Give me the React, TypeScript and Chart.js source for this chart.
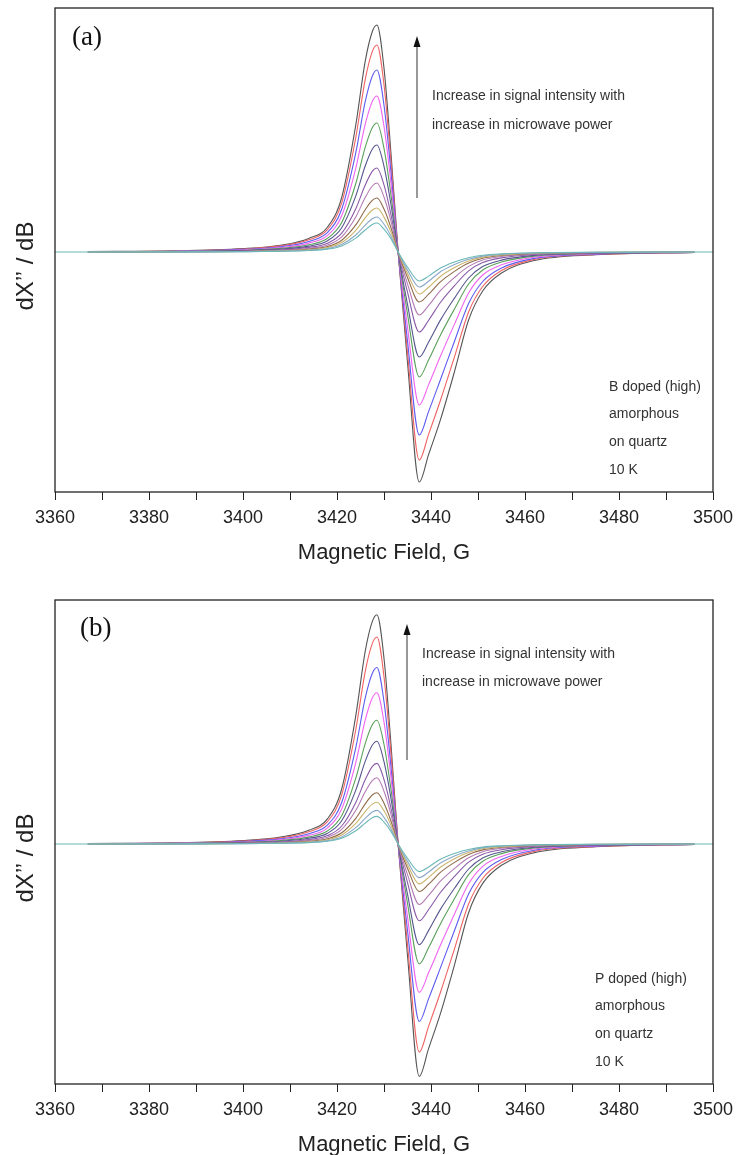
import React, { useEffect, useRef } from 'react';
import { Chart, registerables } from 'chart.js';

Chart.register(...registerables);

// ---------- data ----------
// magnetic field sample positions (G)
const FIELD_G = [3367, 3385, 3400, 3408, 3414, 3418, 3421, 3424, 3426, 3427.5, 3428.5, 3430, 3431.5, 3433, 3435, 3437.5, 3439.5, 3442, 3445, 3448, 3451, 3455, 3462, 3475, 3496];
// the lowest-power trace spans the full window
const FIELD_G_FULL = [3360, 3367, 3385, 3400, 3408, 3414, 3418, 3421, 3424, 3426, 3427.5, 3428.5, 3430, 3431.5, 3433, 3435, 3437.5, 3439.5, 3442, 3445, 3448, 3451, 3455, 3462, 3475, 3496, 3500];

const X_MIN = 3360;
const X_MAX = 3500;
const X_STEP = 10;
const X_LABEL_STEP = 20;

// Panel (a): B doped, traces from highest to lowest microwave power
const A_TRACE_01 = [0.05, 0.11, 0.34, 0.68, 1.36, 2.5, 5.45, 12.71, 19.07, 22.02, 22.7, 18.39, 9.76, 0, -11.04, -23.0, -20.24, -16.79, -11.96, -6.8, -3.9, -2.1, -0.85, -0.28, -0.05];
const A_TRACE_02 = [0.04, 0.1, 0.3, 0.61, 1.22, 2.26, 4.91, 11.45, 17.24, 20.04, 20.7, 16.73, 8.94, 0, -10.07, -20.8, -18.21, -14.85, -10.48, -6.0, -3.45, -1.85, -0.74, -0.25, -0.04];
const A_TRACE_03 = [0.03, 0.08, 0.26, 0.53, 1.06, 1.97, 4.28, 9.94, 15.03, 17.58, 18.2, 14.67, 7.9, 0, -8.91, -18.3, -15.94, -12.77, -8.92, -5.15, -2.95, -1.6, -0.64, -0.22, -0.04];
const A_TRACE_04 = [0.02, 0.07, 0.21, 0.44, 0.89, 1.67, 3.62, 8.39, 12.76, 15.05, 15.6, 12.56, 6.79, 0, -7.51, -15.3, -13.26, -10.43, -7.21, -4.1, -2.3, -1.28, -0.52, -0.17, -0.02];
const A_TRACE_05 = [0.02, 0.06, 0.17, 0.36, 0.72, 1.37, 2.95, 6.85, 10.46, 12.42, 12.9, 10.36, 5.64, 0, -6.18, -12.5, -10.78, -8.32, -5.69, -3.2, -1.8, -1.0, -0.41, -0.14, -0.01];
const A_TRACE_06 = [0.01, 0.04, 0.14, 0.29, 0.59, 1.13, 2.42, 5.61, 8.6, 10.28, 10.7, 8.57, 4.7, 0, -5.23, -10.5, -9.0, -6.81, -4.61, -2.6, -1.46, -0.81, -0.34, -0.12, -0.01];
const A_TRACE_07 = [0.01, 0.03, 0.1, 0.22, 0.46, 0.88, 1.88, 4.33, 6.69, 8.06, 8.4, 6.71, 3.7, 0, -4.02, -8.0, -6.82, -5.05, -3.37, -1.89, -1.06, -0.59, -0.25, -0.09, -0.01];
const A_TRACE_08 = [0, 0.03, 0.08, 0.18, 0.37, 0.71, 1.52, 3.51, 5.44, 6.6, 6.9, 5.5, 3.06, 0, -3.19, -6.3, -5.34, -3.87, -2.55, -1.44, -0.8, -0.45, -0.2, -0.07, 0];
const A_TRACE_09 = [0, 0.02, 0.06, 0.14, 0.28, 0.55, 1.18, 2.71, 4.22, 5.16, 5.4, 4.29, 2.4, 0, -2.55, -5.0, -4.22, -2.99, -1.94, -1.11, -0.62, -0.35, -0.15, -0.05, 0];
const A_TRACE_10 = [0, 0.01, 0.05, 0.11, 0.23, 0.45, 0.95, 2.17, 3.41, 4.2, 4.4, 3.49, 1.96, 0, -2.15, -4.2, -3.52, -2.45, -1.56, -0.9, -0.51, -0.29, -0.12, -0.04, 0];
const A_TRACE_11 = [0, 0.01, 0.04, 0.09, 0.18, 0.35, 0.74, 1.7, 2.68, 3.33, 3.5, 2.77, 1.57, 0, -1.81, -3.5, -2.92, -1.98, -1.25, -0.73, -0.41, -0.23, -0.1, -0.04, 0];
const A_TRACE_12 = [0, 0, 0.01, 0.03, 0.07, 0.15, 0.29, 0.61, 1.39, 2.2, 2.76, 2.9, 2.29, 1.31, 0, -1.51, -2.9, -2.41, -1.6, -0.99, -0.58, -0.33, -0.19, -0.08, -0.03, 0, 0];

// Panel (b): P doped
const B_TRACE_01 = [0.05, 0.11, 0.34, 0.69, 1.37, 2.53, 5.5, 12.84, 19.26, 22.24, 22.93, 18.57, 9.86, 0, -11.15, -23.23, -20.44, -16.96, -12.08, -6.87, -3.94, -2.12, -0.86, -0.28, -0.05];
const B_TRACE_02 = [0.04, 0.1, 0.3, 0.61, 1.22, 2.26, 4.91, 11.45, 17.24, 20.04, 20.7, 16.73, 8.94, 0, -10.07, -20.8, -18.21, -14.85, -10.48, -6.0, -3.45, -1.85, -0.74, -0.25, -0.04];
const B_TRACE_03 = [0.03, 0.08, 0.25, 0.51, 1.03, 1.91, 4.15, 9.64, 14.58, 17.05, 17.65, 14.23, 7.66, 0, -8.64, -17.75, -15.46, -12.39, -8.65, -5.0, -2.86, -1.55, -0.62, -0.21, -0.04];
const B_TRACE_04 = [0.02, 0.07, 0.2, 0.43, 0.86, 1.62, 3.51, 8.14, 12.38, 14.6, 15.13, 12.18, 6.59, 0, -7.28, -14.84, -12.86, -10.12, -6.99, -3.98, -2.23, -1.24, -0.5, -0.16, -0.02];
const B_TRACE_05 = [0.02, 0.06, 0.16, 0.35, 0.69, 1.32, 2.83, 6.58, 10.04, 11.92, 12.38, 9.95, 5.41, 0, -5.93, -12.0, -10.35, -7.99, -5.46, -3.07, -1.73, -0.96, -0.39, -0.13, -0.01];
const B_TRACE_06 = [0.01, 0.04, 0.13, 0.28, 0.57, 1.08, 2.32, 5.39, 8.26, 9.87, 10.27, 8.23, 4.51, 0, -5.02, -10.08, -8.64, -6.54, -4.43, -2.5, -1.4, -0.78, -0.33, -0.12, -0.01];
const B_TRACE_07 = [0.01, 0.03, 0.1, 0.21, 0.44, 0.84, 1.8, 4.16, 6.42, 7.74, 8.06, 6.44, 3.55, 0, -3.86, -7.68, -6.55, -4.85, -3.24, -1.81, -1.02, -0.57, -0.24, -0.09, -0.01];
const B_TRACE_08 = [0, 0.03, 0.08, 0.17, 0.36, 0.68, 1.46, 3.37, 5.22, 6.34, 6.62, 5.28, 2.94, 0, -3.06, -6.05, -5.13, -3.72, -2.45, -1.38, -0.77, -0.43, -0.19, -0.07, 0];
const B_TRACE_09 = [0, 0.02, 0.06, 0.13, 0.27, 0.52, 1.12, 2.57, 4.01, 4.9, 5.13, 4.08, 2.28, 0, -2.42, -4.75, -4.01, -2.84, -1.84, -1.05, -0.59, -0.33, -0.14, -0.05, 0];
const B_TRACE_10 = [0, 0.01, 0.05, 0.1, 0.22, 0.43, 0.9, 2.06, 3.24, 3.99, 4.18, 3.32, 1.86, 0, -2.04, -3.99, -3.34, -2.33, -1.48, -0.86, -0.48, -0.28, -0.11, -0.04, 0];
const B_TRACE_11 = [0, 0.01, 0.04, 0.09, 0.17, 0.34, 0.71, 1.63, 2.57, 3.2, 3.36, 2.66, 1.51, 0, -1.74, -3.36, -2.8, -1.9, -1.2, -0.7, -0.39, -0.22, -0.1, -0.04, 0];
const B_TRACE_12 = [0, 0, 0.01, 0.03, 0.07, 0.14, 0.28, 0.58, 1.32, 2.09, 2.62, 2.76, 2.18, 1.24, 0, -1.43, -2.76, -2.29, -1.52, -0.94, -0.55, -0.31, -0.18, -0.08, -0.03, 0, 0];

const A_TRACES = [A_TRACE_01, A_TRACE_02, A_TRACE_03, A_TRACE_04, A_TRACE_05, A_TRACE_06, A_TRACE_07, A_TRACE_08, A_TRACE_09, A_TRACE_10, A_TRACE_11, A_TRACE_12];
const B_TRACES = [B_TRACE_01, B_TRACE_02, B_TRACE_03, B_TRACE_04, B_TRACE_05, B_TRACE_06, B_TRACE_07, B_TRACE_08, B_TRACE_09, B_TRACE_10, B_TRACE_11, B_TRACE_12];

const TRACE_COLORS = ['#555555', '#f06262', '#5c5cf0', '#f064f0', '#5aa05a', '#56568f', '#8a5aa8', '#b47cb4', '#8f6a4a', '#cbb56c', '#8aa8c8', '#6cb8b8'];

const Y_MIN = -24.0;
const Y_MAX = 24.4;

const SANS = '"Liberation Sans", Arial, sans-serif';
const SERIF = '"Liberation Serif", "Times New Roman", serif';

type PanelCfg = {
  label: string;
  labelX: number; labelY: number;
  arrowX: number; arrowTop: number; arrowBottom: number;
  noteX: number; noteY: number[];
  notes: string[];
  sampleX: number; sampleY: number[];
  sample: string[];
  yTitleY: number;
};

const NOTE_TEXT = ['Increase in signal intensity with', 'increase in microwave power'];

const PANEL_A: PanelCfg = {
  label: '(a)', labelX: 72, labelY: 38,
  arrowX: 417, arrowTop: 36, arrowBottom: 198,
  noteX: 432, noteY: [96, 125], notes: NOTE_TEXT,
  sampleX: 609, sampleY: [387, 414, 442, 470],
  sample: ['B doped (high)', 'amorphous', 'on quartz', '10 K'],
  yTitleY: 266,
};

const PANEL_B: PanelCfg = {
  label: '(b)', labelX: 80, labelY: 37,
  arrowX: 407, arrowTop: 32, arrowBottom: 168,
  noteX: 422, noteY: [62, 90], notes: NOTE_TEXT,
  sampleX: 595, sampleY: [387, 414, 442, 470],
  sample: ['P doped (high)', 'amorphous', 'on quartz', '10 K'],
  yTitleY: 266,
};

function buildDatasets(traces: number[][]) {
  return traces.map((vals, i) => {
    const xs = vals.length === FIELD_G_FULL.length ? FIELD_G_FULL : FIELD_G;
    return {
      label: 'P' + (i + 1),
      data: vals.map((v, k) => ({ x: xs[k], y: v })),
      borderColor: TRACE_COLORS[i],
      backgroundColor: TRACE_COLORS[i],
      borderWidth: 1.1,
      pointRadius: 0,
      fill: false,
      cubicInterpolationMode: 'monotone' as const,
      order: traces.length - i,
    };
  });
}

function makeDecor(cfg: PanelCfg) {
  return {
    id: 'decor',
    afterDraw(chart: any) {
      const { ctx, chartArea } = chart;
      const { left, right, top, bottom } = chartArea;
      ctx.save();
      // frame
      ctx.strokeStyle = '#222';
      ctx.lineWidth = 1.3;
      ctx.strokeRect(left, top, right - left, bottom - top);
      // panel label
      ctx.fillStyle = '#111';
      ctx.font = `27px ${SERIF}`;
      ctx.textBaseline = 'middle';
      ctx.textAlign = 'left';
      ctx.fillText(cfg.label, cfg.labelX, cfg.labelY);
      // arrow
      ctx.strokeStyle = '#444';
      ctx.lineWidth = 1.1;
      ctx.beginPath();
      ctx.moveTo(cfg.arrowX, cfg.arrowBottom);
      ctx.lineTo(cfg.arrowX, cfg.arrowTop + 8);
      ctx.stroke();
      ctx.fillStyle = '#111';
      ctx.beginPath();
      ctx.moveTo(cfg.arrowX, cfg.arrowTop);
      ctx.lineTo(cfg.arrowX - 3.5, cfg.arrowTop + 11);
      ctx.lineTo(cfg.arrowX + 3.5, cfg.arrowTop + 11);
      ctx.closePath();
      ctx.fill();
      // notes
      ctx.fillStyle = '#333';
      ctx.font = `14px ${SANS}`;
      cfg.notes.forEach((t, i) => ctx.fillText(t, cfg.noteX, cfg.noteY[i]));
      cfg.sample.forEach((t, i) => ctx.fillText(t, cfg.sampleX, cfg.sampleY[i]));
      // y title
      ctx.save();
      ctx.translate(26, cfg.yTitleY);
      ctx.rotate(-Math.PI / 2);
      ctx.textAlign = 'center';
      ctx.font = `24px ${SANS}`;
      ctx.fillStyle = '#222';
      ctx.fillText('dX\u2019\u2019 / dB', 0, 0);
      ctx.restore();
      ctx.restore();
    },
  };
}

function Panel({ traces, cfg, top }: { traces: number[][]; cfg: PanelCfg; top: number }) {
  const ref = useRef<HTMLCanvasElement | null>(null);
  useEffect(() => {
    if (!ref.current) return;
    const chart = new Chart(ref.current, {
      type: 'line',
      data: { datasets: buildDatasets(traces) as any },
      options: {
        animation: false,
        responsive: false,
        devicePixelRatio: 1,
        layout: { padding: { left: 55, right: 23, top: 8, bottom: 0 } },
        plugins: { legend: { display: false }, tooltip: { enabled: false } },
        scales: {
          x: {
            type: 'linear',
            min: X_MIN,
            max: X_MAX,
            ticks: {
              stepSize: X_STEP,
              autoSkip: false,
              maxRotation: 0,
              padding: 7,
              color: '#222',
              font: { family: SANS, size: 18 },
              callback: (v: any) => (Number(v) % X_LABEL_STEP === 0 ? String(v) : ''),
            },
            grid: { drawOnChartArea: false, drawTicks: true, tickLength: 8, color: '#222', lineWidth: 1 },
            border: { display: false },
            title: {
              display: true,
              text: 'Magnetic Field, G',
              color: '#222',
              font: { family: SANS, size: 22 },
              padding: { top: 0, bottom: 14 },
            },
            afterFit: (scale: any) => {
              scale.height = 88;
              scale.paddingLeft = 0;
              scale.paddingRight = 0;
            },
          },
          y: { type: 'linear', display: false, min: Y_MIN, max: Y_MAX },
        },
      },
      plugins: [makeDecor(cfg)],
    });
    return () => chart.destroy();
  }, []);
  return (
    <canvas
      ref={ref}
      width={736}
      height={580}
      style={{ position: 'absolute', left: 0, top, width: 736, height: 580 }}
    />
  );
}

export default function App() {
  return (
    <div style={{ position: 'absolute', left: 0, top: 0, width: 736, height: 1155, overflow: 'hidden', background: '#fff' }}>
      <Panel traces={A_TRACES} cfg={PANEL_A} top={0} />
      <Panel traces={B_TRACES} cfg={PANEL_B} top={592} />
    </div>
  );
}
